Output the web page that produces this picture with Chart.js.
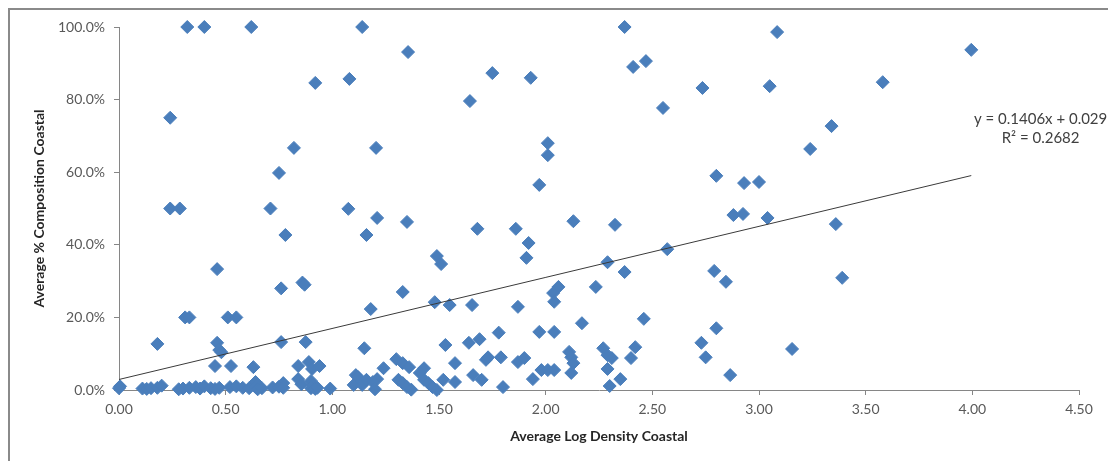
<!DOCTYPE html>
<html>
<head>
<meta charset="utf-8">
<script src="https://cdn.jsdelivr.net/npm/chart.js@4/dist/chart.umd.min.js"></script>
<style>
  body { margin: 0; background: #fff; }
  #wrap { position: relative; width: 1108px; height: 461px; }
  #frame { position: absolute; left: 8px; top: 8px; width: 1200px; height: 500px;
           border-left: 2px solid #8a8a8a; border-top: 2px solid #8a8a8a; pointer-events: none; }
</style>
</head>
<body>
<div id="wrap">
  <canvas id="scatterChart" width="1108" height="461"></canvas>
  <div id="frame"></div>
</div>
<script>
// x: average log density, y: average composition (fraction)
const xValues = [
  0.32, 0.40, 0.62, 1.14, 2.37,
  3.085, 3.995, 1.355, 2.41, 2.47, 1.75, 1.93, 1.08, 0.92, 3.58, 3.05, 2.735, 1.645, 2.55, 0.24,
  3.34, 0.82, 1.205, 3.24, 2.01, 2.01, 0.75, 2.80, 1.97, 2.93, 3.00,
  0.24, 0.285, 0.71, 1.075,
  2.88, 2.925, 3.04, 1.21, 2.13, 1.35, 2.325, 3.36, 0.78, 1.16, 1.68, 1.86, 1.92, 2.57, 1.91,
  1.49, 1.51, 3.39, 0.46, 2.37, 2.29, 2.79, 2.845, 2.06, 2.035, 2.04, 2.235, 0.76, 0.86, 0.87, 1.33,
  1.48, 1.55, 1.655, 1.87, 1.18, 0.31, 0.33, 0.51, 0.55, 2.46, 2.17, 2.80, 1.78, 1.97, 2.04,
  0.18, 0.46, 0.47, 0.48, 0.76, 0.875, 1.15, 1.53, 1.64, 1.69, 2.73, 3.155, 2.27, 2.42, 2.11,
  0.45, 0.525, 0.63, 0.84, 0.89, 0.905, 0.94, 1.30, 1.33, 1.36, 1.43, 1.575, 1.72, 1.73, 1.79,
  1.87, 1.90, 1.98, 2.01, 2.04, 2.12, 2.13, 2.29, 2.31, 2.29, 2.40, 2.75, 1.24, 2.12,
  0.84, 0.855, 0.90, 0.91, 0.64, 0.77, 1.41, 1.66, 1.70, 1.94, 2.35, 2.865, 1.21, 1.10, 1.11,
  1.12, 1.14, 1.16, 1.19, 1.31, 1.33, 1.43, 1.45, 1.52, 1.575, 2.30, 1.80, 1.35, 1.47,
  0.00, 0.005, 0.11, 0.13, 0.15, 0.18, 0.20, 0.28, 0.30, 0.33, 0.36, 0.38, 0.40, 0.43, 0.45,
  0.47, 0.52, 0.55, 0.58, 0.61, 0.64, 0.65, 0.72, 0.75, 0.77, 0.90, 0.92, 0.93, 0.99, 1.20,
  1.37, 1.49, 0.67
];
const yValues = [
  1.00, 1.00, 1.00, 1.00, 1.00,
  0.986, 0.937, 0.931, 0.89, 0.906, 0.873, 0.86, 0.857, 0.846, 0.848, 0.837, 0.832, 0.796, 0.777, 0.75,
  0.727, 0.667, 0.667, 0.664, 0.68, 0.647, 0.598, 0.59, 0.565, 0.57, 0.573,
  0.50, 0.50, 0.50, 0.499,
  0.482, 0.485, 0.474, 0.474, 0.465, 0.463, 0.455, 0.457, 0.427, 0.427, 0.444, 0.444, 0.405, 0.388, 0.364,
  0.369, 0.347, 0.309, 0.333, 0.325, 0.352, 0.328, 0.298, 0.284, 0.267, 0.243, 0.284, 0.28, 0.296, 0.29, 0.27,
  0.242, 0.234, 0.234, 0.229, 0.223, 0.20, 0.20, 0.20, 0.20, 0.196, 0.184, 0.17, 0.158, 0.16, 0.16,
  0.127, 0.13, 0.11, 0.104, 0.132, 0.132, 0.115, 0.124, 0.13, 0.14, 0.13, 0.113, 0.115, 0.118, 0.105,
  0.066, 0.066, 0.063, 0.066, 0.077, 0.058, 0.066, 0.085, 0.074, 0.063, 0.06, 0.074, 0.083, 0.09, 0.09,
  0.077, 0.088, 0.055, 0.055, 0.055, 0.09, 0.074, 0.096, 0.088, 0.058, 0.088, 0.09, 0.06, 0.047,
  0.03, 0.016, 0.025, 0.014, 0.022, 0.019, 0.047, 0.041, 0.028, 0.03, 0.03, 0.041, 0.03, 0.014, 0.041,
  0.036, 0.014, 0.028, 0.022, 0.028, 0.019, 0.028, 0.019, 0.028, 0.022, 0.011, 0.008, 0.008, 0.008,
  0.005, 0.01, 0.004, 0.003, 0.005, 0.006, 0.012, 0.002, 0.004, 0.006, 0.008, 0.004, 0.01, 0.005, 0.003,
  0.006, 0.008, 0.01, 0.006, 0.005, 0.008, 0.002, 0.007, 0.009, 0.006, 0.005, 0.003, 0.006, 0.004, 0.002,
  0.001, 0.0, 0.005
];
const xTicks = [0, 0.5, 1, 1.5, 2, 2.5, 3, 3.5, 4, 4.5];
const yTicks = [0, 0.2, 0.4, 0.6, 0.8, 1.0];
const trendSlope = 0.1406;
const trendIntercept = 0.029;
const trendR2 = 0.2682;

const points = xValues.map((x, i) => ({ x: x, y: yValues[i] }));
const xMax = Math.max(...xValues);
const trendPoints = [
  { x: 0, y: trendIntercept },
  { x: xMax, y: trendSlope * xMax + trendIntercept }
];

const axisColor = '#868686';
const labelColor = '#595959';
const fontFamily = 'Lato, "Open Sans", sans-serif';

const equationLabel = {
  id: 'equationLabel',
  afterDraw(chart) {
    const ctx = chart.ctx;
    const xs = chart.scales.x, ys = chart.scales.y;
    ctx.save();
    ctx.fillStyle = '#404040';
    ctx.font = '15px ' + fontFamily;
    ctx.textAlign = 'center';
    ctx.textBaseline = 'middle';
    const cx = xs.getPixelForValue(4.32);
    ctx.fillText('y = ' + trendSlope + 'x + ' + trendIntercept, cx, ys.getPixelForValue(0.746));
    ctx.fillText('R\u00B2 = ' + trendR2, cx, ys.getPixelForValue(0.694));
    ctx.restore();
  }
};

const ctx = document.getElementById('scatterChart').getContext('2d');
const scatterChart = new Chart(ctx, {
  type: 'scatter',
  data: {
    datasets: [{
      type: 'line',
      data: trendPoints,
      borderColor: '#3a3a3a',
      borderWidth: 1,
      pointRadius: 0,
      fill: false,
      order: 0
    }, {
      data: points,
      pointStyle: 'rectRot',
      pointRadius: 6.5,
      pointHoverRadius: 6.5,
      backgroundColor: '#4a7ebb',
      borderColor: '#4a7ebb',
      borderWidth: 1,
      clip: false,
      order: 1
    }]
  },
  options: {
    responsive: false,
    animation: false,
    layout: { padding: { left: 0, top: 27, right: 29, bottom: 0 } },
    plugins: {
      legend: { display: false },
      tooltip: { enabled: false }
    },
    scales: {
      x: {
        type: 'linear',
        min: 0,
        max: 4.5,
        afterFit: s => { s.height = 71; },
        afterBuildTicks: s => { s.ticks = xTicks.map(v => ({ value: v })); },
        grid: { display: true, drawOnChartArea: false, drawTicks: true, tickLength: 5, color: axisColor },
        border: { display: true, color: axisColor, width: 1 },
        ticks: {
          padding: 6,
          color: labelColor,
          font: { family: fontFamily, size: 14 },
          callback: v => Number(v).toFixed(2)
        },
        title: {
          display: true,
          text: 'Average Log Density Coastal',
          color: '#262626',
          padding: { top: 0, bottom: 16 },
          font: { family: fontFamily, size: 14, weight: 'bold' }
        }
      },
      y: {
        type: 'linear',
        min: 0,
        max: 1,
        afterFit: s => { s.width = 119; },
        afterBuildTicks: s => { s.ticks = yTicks.map(v => ({ value: v })); },
        grid: { display: true, drawOnChartArea: false, drawTicks: true, tickLength: 5, color: axisColor },
        border: { display: true, color: axisColor, width: 1 },
        ticks: {
          padding: 9,
          color: labelColor,
          font: { family: fontFamily, size: 14 },
          callback: v => (v * 100).toFixed(1) + '%'
        },
        title: {
          display: true,
          text: 'Average % Composition Coastal',
          color: '#262626',
          padding: { top: 31, bottom: 0 },
          font: { family: fontFamily, size: 14, weight: 'bold' }
        }
      }
    }
  },
  plugins: [equationLabel]
});
</script>
</body>
</html>
